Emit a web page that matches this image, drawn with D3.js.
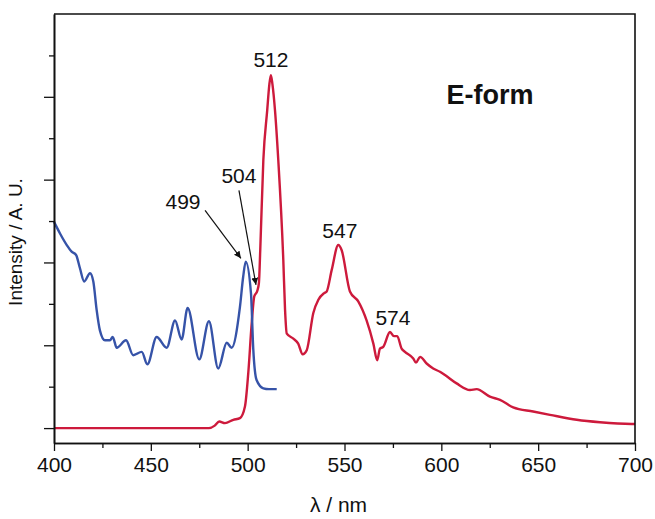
<!DOCTYPE html>
<html>
<head>
<meta charset="utf-8">
<script src="https://cdnjs.cloudflare.com/ajax/libs/d3/7.8.5/d3.min.js"></script>
<style>
  body { margin: 0; background: #fff; }
  text { font-family: "Liberation Sans", Arial, Helvetica, sans-serif; fill: #111; }
</style>
</head>
<body>
<div id="chart"></div>
<script>
// excitation spectrum (blue)
var blueWl = [400, 403.1, 406.6, 409.1, 411.4, 413.4, 415.6, 418.6, 420.3, 422.0, 423.7, 426.3, 428.9,
  430.3, 432.4, 437.2, 440.9, 445.3, 448.2, 453.0, 458.2, 462.5, 465.9, 469.0, 475.0, 480.0, 484.8,
  489.2, 491.7, 496.0, 497.7, 499.0, 501.7, 502.9, 504.6, 508.1, 511, 515.0];
var blueVal = [2.49, 2.35, 2.21, 2.13, 2.09, 1.93, 1.77, 1.87, 1.77, 1.43, 1.18, 1.06, 1.06,
  1.10, 0.97, 1.06, 0.88, 0.92, 0.77, 1.10, 0.97, 1.30, 1.07, 1.45, 0.83, 1.29, 0.72,
  1.03, 0.97, 1.46, 1.83, 2.01, 1.63, 0.95, 0.58, 0.48, 0.47, 0.47];

// emission spectrum (red)
var redWl = [400, 480, 483, 485.3, 488.3, 492.6, 496.0, 498.6, 500.3, 502.1, 503.4, 505.0, 505.8,
  506.5, 508.1, 510.1, 511.2, 512.0, 512.8, 514.1, 515.8, 518.4, 519.3, 520.2, 523.6, 526.1, 528.4,
  530.5, 533.9, 536.5, 539.5, 540.8, 543.4, 546.8, 548.5, 552.8, 557.1, 561.4, 564.9, 566.9, 568.3,
  570.0, 573.5, 575.5, 577.2, 579.5, 581.2, 585.5, 586.9, 589.0, 592.4, 595.8, 599.3, 601.9, 607.9,
  614.8, 618.2, 625.1, 630.3, 637.1, 647.4, 656.1, 669.9, 681.9, 698.2, 700];
var redVal = [0, 0, 0.03, 0.08, 0.06, 0.10, 0.12, 0.26, 0.66, 1.27, 1.59, 1.66, 1.75,
  2.15, 3.24, 3.84, 4.15, 4.26, 4.15, 3.84, 3.24, 2.03, 1.43, 1.14, 1.08, 1.02, 0.89,
  0.94, 1.39, 1.55, 1.63, 1.65, 1.91, 2.21, 2.15, 1.65, 1.53, 1.30, 1.02, 0.82, 0.96,
  0.98, 1.16, 1.11, 1.11, 0.96, 0.92, 0.84, 0.79, 0.86, 0.78, 0.72, 0.68, 0.64, 0.54,
  0.46, 0.47, 0.38, 0.34, 0.25, 0.20, 0.16, 0.10, 0.07, 0.05, 0.05];

// axis ticks
var xMajorTicks = [400, 450, 500, 550, 600, 650, 700];
var xMinorTicks = [425, 475, 525, 575, 625, 675];
var yMajorTicks = [0, 1, 2, 3, 4];
var yMinorTicks = [0.5, 1.5, 2.5, 3.5, 4.5];

// peak labels: text, label x/y (data units)
var peakLabels = ["512", "504", "499", "547", "574"];
var peakLabelWl = [512.0, 495.5, 466.6, 547.6, 575.0];
var peakLabelVal = [4.36, 2.96, 2.64, 2.29, 1.24];

// arrows: from (wl, val) to (wl, val)
var arrowFromWl = [478.0, 495.5];
var arrowFromVal = [2.63, 2.87];
var arrowToWl = [496.5, 504.3];
var arrowToVal = [2.05, 1.73];

var margin = {top: 14, right: 20, bottom: 76, left: 54},
    width = 655 - margin.left - margin.right,
    height = 519 - margin.top - margin.bottom;

var svg = d3.select("#chart").append("svg")
    .attr("width", 655)
    .attr("height", 519)
  .append("g")
    .attr("transform", "translate(" + margin.left + "," + margin.top + ")");

var x = d3.scaleLinear().domain([400, 700]).range([0, width]);
var y = d3.scaleLinear().domain([-0.18, 5]).range([height, 0]);

// arrow marker
svg.append("defs").append("marker")
    .attr("id", "arrow")
    .attr("viewBox", "0 0 10 10")
    .attr("refX", 10)
    .attr("refY", 5)
    .attr("markerWidth", 7)
    .attr("markerHeight", 7)
    .attr("markerUnits", "userSpaceOnUse")
    .attr("orient", "auto")
  .append("path")
    .attr("d", "M0,0 L10,5 L0,10 Z")
    .attr("fill", "#111");

// curves
var line = d3.line()
    .x(function(d) { return x(d[0]); })
    .y(function(d) { return y(d[1]); })
    .curve(d3.curveMonotoneX);

svg.append("path")
    .datum(redWl.map(function(w, i) { return [w, redVal[i]]; }))
    .attr("fill", "none")
    .attr("stroke", "#cd1a3c")
    .attr("stroke-width", 2.4)
    .attr("d", line);

svg.append("path")
    .datum(blueWl.map(function(w, i) { return [w, blueVal[i]]; }))
    .attr("fill", "none")
    .attr("stroke", "#3653a8")
    .attr("stroke-width", 2.4)
    .attr("d", line);

// frame (top and right)
svg.append("path")
    .attr("d", "M0,0 H" + width + " V" + height)
    .attr("fill", "none")
    .attr("stroke", "#111")
    .attr("stroke-width", 1.6);

// x axis
function styleAxis(g) {
  g.select(".domain").attr("stroke", "#111").attr("stroke-width", 1.6);
  g.selectAll(".tick line").attr("stroke", "#111").attr("stroke-width", 1.3);
}

svg.append("g")
    .attr("transform", "translate(0," + height + ")")
    .call(d3.axisBottom(x).tickValues(xMinorTicks).tickSize(5).tickSizeOuter(0).tickFormat(""))
    .call(styleAxis);

svg.append("g")
    .attr("transform", "translate(0," + height + ")")
    .call(d3.axisBottom(x).tickValues(xMajorTicks).tickSize(8).tickSizeOuter(0).tickPadding(6))
    .call(styleAxis)
    .selectAll("text")
    .style("font-size", "21px")
    .attr("fill", "#111");

// y axis, no labels
svg.append("g")
    .call(d3.axisLeft(y).tickValues(yMinorTicks).tickSize(5).tickSizeOuter(0).tickFormat(""))
    .call(styleAxis);

svg.append("g")
    .call(d3.axisLeft(y).tickValues(yMajorTicks).tickSize(10).tickSizeOuter(0).tickFormat(""))
    .call(styleAxis);

// axis titles
svg.append("text")
    .attr("x", x(550) - 6)
    .attr("y", height + 69)
    .attr("text-anchor", "middle")
    .style("font-size", "21px")
    .text("λ / nm");

svg.append("text")
    .attr("transform", "translate(" + (-32) + "," + (242 - margin.top) + ") rotate(-90)")
    .attr("text-anchor", "middle")
    .style("font-size", "19px")
    .text("Intensity / A. U.");

// arrows
svg.selectAll("line.arrow")
    .data(arrowFromWl)
  .enter().append("line")
    .attr("class", "arrow")
    .attr("x1", function(d) { return x(d); })
    .attr("y1", function(d, i) { return y(arrowFromVal[i]); })
    .attr("x2", function(d, i) { return x(arrowToWl[i]); })
    .attr("y2", function(d, i) { return y(arrowToVal[i]); })
    .attr("stroke", "#111")
    .attr("stroke-width", 1.2)
    .attr("marker-end", "url(#arrow)");

// peak labels
svg.selectAll("text.peak")
    .data(peakLabels)
  .enter().append("text")
    .attr("class", "peak")
    .attr("x", function(d, i) { return x(peakLabelWl[i]); })
    .attr("y", function(d, i) { return y(peakLabelVal[i]); })
    .attr("text-anchor", "middle")
    .style("font-size", "21px")
    .text(function(d) { return d; });

svg.append("text")
    .attr("x", x(625.1))
    .attr("y", y(3.91))
    .attr("text-anchor", "middle")
    .style("font-size", "27px")
    .style("font-weight", "bold")
    .text("E-form");
</script>
</body>
</html>
